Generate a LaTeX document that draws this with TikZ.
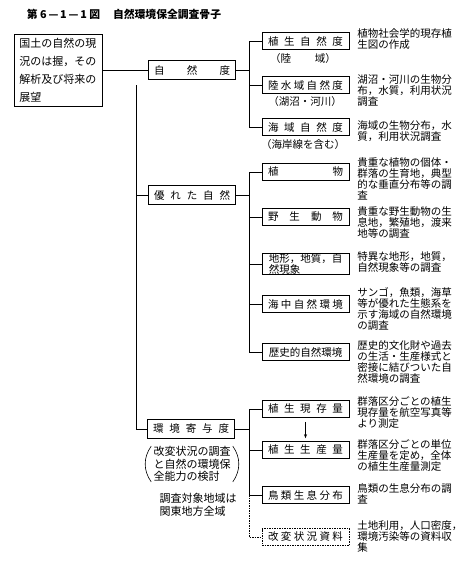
\documentclass[tikz,border=0pt]{standalone}
\usepackage{fontspec}
\newfontfamily\jp{Noto Sans CJK JP}
\usetikzlibrary{positioning, arrows.meta}

\begin{document}
\begin{tikzpicture}[x=1pt, y=-1pt, line width=0.6pt,
    box/.style={draw, minimum height=17pt, inner sep=0pt, font=\jp\fontsize{10.5}{11}\selectfont},
    item/.style={box, minimum width=87pt},
    cat/.style={box, minimum width=87pt, minimum height=19pt},
    desc/.style={anchor=north west, inner sep=0pt, align=left, font=\jp\fontsize{10.5}{11}\selectfont},
    sub/.style={inner sep=0pt, font=\jp\fontsize{10.5}{12}\selectfont},
    note/.style={inner sep=0pt, align=left, font=\jp\fontsize{11}{12.5}\selectfont},
    dots/.style={dash pattern=on 1.5pt off 1pt}]

    \useasboundingbox (0,0) rectangle (474,562);

    \node[font=\jp\bfseries\fontsize{10.8}{12}\selectfont] (title) at (124,14)
        {第 6\,—\,1\,—\,1 図\hspace{1.2em}自然環境保全調査骨子};

    % left column
    \node[draw, minimum width=88pt, minimum height=72pt, inner sep=0pt, align=left,
          font=\jp\fontsize{11}{18}\selectfont] (root) at (58,70)
          {国土の自然の現\\況のは握，その\\解析及び将来の\\展望};

    \node[cat] (shizen) at (192,70) {\makebox[76pt]{自\hfill 然\hfill 度}};
    \node[cat] (sugure) at (192,195) {\makebox[76pt]{優\hfill れ\hfill た\hfill 自\hfill 然}};
    \node[cat] (kiyo) at (191,429) {\makebox[76pt]{環\hfill 境\hfill 寄\hfill 与\hfill 度}};

    \node[note] (kaihen-n) at (192,464) {改変状況の調査\\と自然の環境保\\全能力の検討};
    \node[note] (area) at (198,505) {調査対象地域は\\関東地方全域};

    % group 1
    \node[item] (riku) at (305.5,41) {\makebox[75pt]{植\hfill 生\hfill 自\hfill 然\hfill 度}};
    \node[sub] (riku-s) at (303,59) {\makebox[66pt]{（陸\hfill 域）}};
    \node[item] (rikusui) at (305.5,85) {\makebox[75pt]{陸\hfill 水\hfill 域\hfill 自\hfill 然\hfill 度}};
    \node[sub] (rikusui-s) at (305,102) {（湖沼・河川）};
    \node[item] (kaiiki) at (305.5,127) {\makebox[75pt]{海\hfill 域\hfill 自\hfill 然\hfill 度}};
    \node[sub] (kaiiki-s) at (303,145) {（海岸線を含む）};

    % group 2
    \node[item] (shokubutsu) at (305.5,172) {\makebox[75pt]{植\hfill 物}};
    \node[item] (yasei) at (305.5,217) {\makebox[75pt]{野\hfill 生\hfill 動\hfill 物}};
    \node[item, minimum height=21pt, align=left] (chikei) at (305.5,264) {地形，地質，自\\然現象};
    \node[item] (kaichu) at (305.5,304) {\makebox[75pt]{海\hfill 中\hfill 自\hfill 然\hfill 環\hfill 境}};
    \node[item] (rekishi) at (305.5,352) {歴史的自然環境};

    % group 3
    \node[item] (genson) at (305.5,409) {\makebox[75pt]{植\hfill 生\hfill 現\hfill 存\hfill 量}};
    \node[item] (seisan) at (305.5,450) {\makebox[75pt]{植\hfill 生\hfill 生\hfill 産\hfill 量}};
    \node[item] (chorui) at (305.5,495) {\makebox[75pt]{鳥\hfill 類\hfill 生\hfill 息\hfill 分\hfill 布}};
    \node[item, dots] (kaihen) at (305.5,537) {\makebox[75pt]{改\hfill 変\hfill 状\hfill 況\hfill 資\hfill 料}};

    % descriptions
    \node[desc] (riku-d) at (357,28.5) {植物社会学的現存植\\生図の作成};
    \node[desc] (rikusui-d) at (357,74.5) {湖沼・河川の生物分\\布，水質，利用状況\\調査};
    \node[desc] (kaiiki-d) at (357,120) {海域の生物分布，水\\質，利用状況調査};
    \node[desc] (shokubutsu-d) at (357,157.5) {貴重な植物の個体・\\群落の生育地，典型\\的な垂直分布等の調\\査};
    \node[desc] (yasei-d) at (357,206.5) {貴重な野生動物の生\\息地，繁殖地，渡来\\地等の調査};
    \node[desc] (chikei-d) at (357,251.5) {特異な地形，地質，\\自然現象等の調査};
    \node[desc] (kaichu-d) at (357,287) {サンゴ，魚類，海草\\等が優れた生態系を\\示す海域の自然環境\\の調査};
    \node[desc] (rekishi-d) at (357,340) {歴史的文化財や過去\\の生活・生産様式と\\密接に結びついた自\\然環境の調査};
    \node[desc] (genson-d) at (357,396.5) {群落区分ごとの植生\\現存量を航空写真等\\より測定};
    \node[desc] (seisan-d) at (357,439.5) {群落区分ごとの単位\\生産量を定め，全体\\の植生生産量測定};
    \node[desc] (chorui-d) at (357,483.5) {鳥類の生息分布の調\\査};
    \node[desc] (kaihen-d) at (357,520.5) {土地利用，人口密度，\\環境汚染等の資料収\\集};

    % connectors
    \coordinate (spine) at (136,85);
    \coordinate (g) at (249,0);

    \draw (root) -- (shizen);
    \draw (spine) |- (kiyo.west);
    \draw (spine |- sugure.west) -- (sugure.west);

    \draw (shizen.east) -- (shizen.east -| g);
    \draw (riku.west) -| (g |- kaiiki.west) -- (kaiiki.west);
    \draw (rikusui.west) -- (rikusui.west -| g);

    \draw (sugure.east) -- (sugure.east -| g);
    \draw (shokubutsu.west) -| (g |- rekishi.west) -- (rekishi.west);
    \foreach \n in {yasei, chikei, kaichu}
        \draw (\n.west) -- (\n.west -| g);

    \draw (kiyo.east) -- (kiyo.east -| g);
    \draw (genson.west) -| (g |- chorui.west) -- (chorui.west);
    \draw (seisan.west) -- (seisan.west -| g);
    \draw[dots] (g |- chorui.west) |- (kaihen.west);

    \draw[-{Stealth[length=4pt, width=3pt]}, shorten <=4pt, shorten >=3pt] (genson) -- (seisan);

    % parentheses round the note
    \draw ([xshift=-2pt]kaihen-n.north west) to[bend right=35] ([xshift=-2pt]kaihen-n.south west);
    \draw ([xshift=2pt]kaihen-n.north east) to[bend left=35] ([xshift=2pt]kaihen-n.south east);
\end{tikzpicture}
\end{document}
